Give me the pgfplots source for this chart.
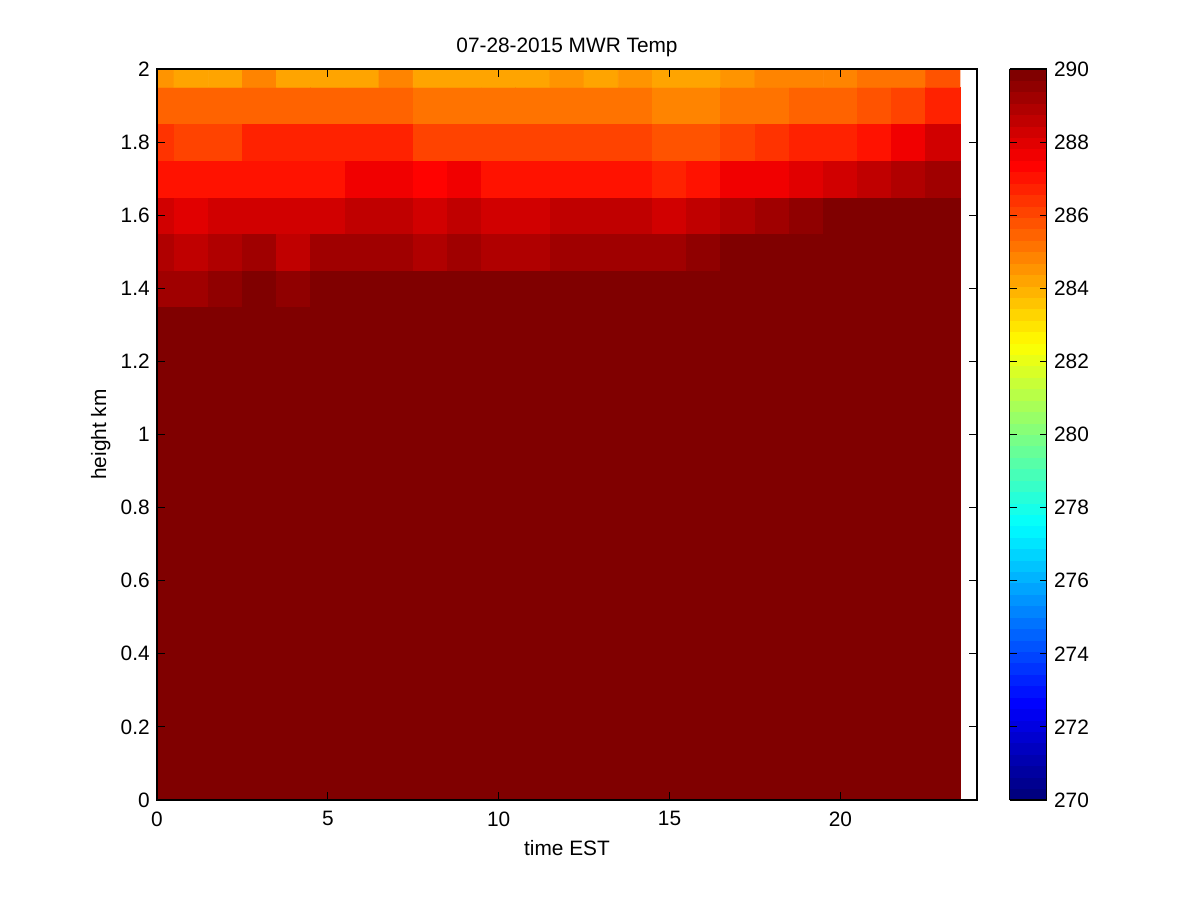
\documentclass[border=0pt]{standalone}
\usepackage{fontspec}
\setmainfont{Liberation Sans}
\usepackage{pgfplots}
\pgfplotsset{compat=1.18}
\usepackage{pgfplotstable}

\pgfplotsset{
  colormap={matjet}{rgb(0cm)=(0,0,0.5) rgb(1cm)=(0,0,1) rgb(3cm)=(0,1,1) rgb(5cm)=(1,1,0) rgb(7cm)=(1,0,0) rgb(8cm)=(0.5,0,0)},
  colormap={mjet64}{samples of colormap=(64 of matjet)},
}

% top levels: x (time EST), y (height km), c (temperature K)
\pgfplotstableread{
x y c
0 1.3 290
1 1.3 290
2 1.3 290
3 1.3 290
4 1.3 290
5 1.3 290
6 1.3 290
7 1.3 290
8 1.3 290
9 1.3 290
10 1.3 290
11 1.3 290
12 1.3 290
13 1.3 290
14 1.3 290
15 1.3 290
16 1.3 290
17 1.3 290
18 1.3 290
19 1.3 290
20 1.3 290
21 1.3 290
22 1.3 290
23 1.3 290
0 1.4 289.3
1 1.4 289.3
2 1.4 289.5
3 1.4 290
4 1.4 289.4
5 1.4 290
6 1.4 290
7 1.4 290
8 1.4 290
9 1.4 290
10 1.4 290
11 1.4 290
12 1.4 290
13 1.4 290
14 1.4 290
15 1.4 290
16 1.4 290
17 1.4 290
18 1.4 290
19 1.4 290
20 1.4 290
21 1.4 290
22 1.4 290
23 1.4 290
0 1.5 288.8
1 1.5 288.5
2 1.5 288.8
3 1.5 289.1
4 1.5 288.7
5 1.5 289.1
6 1.5 289.3
7 1.5 289.3
8 1.5 289.0
9 1.5 289.3
10 1.5 289.0
11 1.5 289.0
12 1.5 289.1
13 1.5 289.1
14 1.5 289.1
15 1.5 289.1
16 1.5 289.4
17 1.5 290
18 1.5 290
19 1.5 290
20 1.5 290
21 1.5 290
22 1.5 290
23 1.5 290
0 1.6 288.3
1 1.6 288.0
2 1.6 288.3
3 1.6 288.3
4 1.6 288.3
5 1.6 288.3
6 1.6 288.6
7 1.6 288.6
8 1.6 288.3
9 1.6 288.6
10 1.6 288.3
11 1.6 288.3
12 1.6 288.5
13 1.6 288.6
14 1.6 288.6
15 1.6 288.3
16 1.6 288.5
17 1.6 288.8
18 1.6 289.1
19 1.6 289.4
20 1.6 289.7
21 1.6 290
22 1.6 290
23 1.6 290
0 1.7 287.1
1 1.7 287.1
2 1.7 287.1
3 1.7 287.1
4 1.7 287.1
5 1.7 287.1
6 1.7 287.5
7 1.7 287.5
8 1.7 287.2
9 1.7 287.5
10 1.7 287.1
11 1.7 287.1
12 1.7 287.1
13 1.7 287.1
14 1.7 287.1
15 1.7 286.7
16 1.7 287.1
17 1.7 287.5
18 1.7 287.8
19 1.7 287.9
20 1.7 288.2
21 1.7 288.5
22 1.7 288.9
23 1.7 289.2
0 1.8 286.5
1 1.8 286.1
2 1.8 286.1
3 1.8 286.6
4 1.8 286.6
5 1.8 286.6
6 1.8 286.6
7 1.8 286.6
8 1.8 286.2
9 1.8 286.2
10 1.8 286.2
11 1.8 286.2
12 1.8 286.1
13 1.8 286.1
14 1.8 286.1
15 1.8 285.9
16 1.8 285.9
17 1.8 286.2
18 1.8 286.5
19 1.8 286.8
20 1.8 286.8
21 1.8 287.1
22 1.8 287.5
23 1.8 288.2
0 1.9 285.4
1 1.9 285.4
2 1.9 285.4
3 1.9 285.4
4 1.9 285.4
5 1.9 285.4
6 1.9 285.4
7 1.9 285.4
8 1.9 285.2
9 1.9 285.2
10 1.9 285.2
11 1.9 285.2
12 1.9 285.2
13 1.9 285.2
14 1.9 285.2
15 1.9 284.9
16 1.9 284.9
17 1.9 285.2
18 1.9 285.2
19 1.9 285.4
20 1.9 285.4
21 1.9 285.8
22 1.9 286.0
23 1.9 286.7
0 2.0 284.6
1 2.0 284.3
2 2.0 284.3
3 2.0 284.8
4 2.0 284.3
5 2.0 284.3
6 2.0 284.3
7 2.0 284.8
8 2.0 284.3
9 2.0 284.3
10 2.0 284.2
11 2.0 284.1
12 2.0 284.5
13 2.0 284.2
14 2.0 284.6
15 2.0 284.2
16 2.0 284.2
17 2.0 284.4
18 2.0 284.8
19 2.0 284.8
20 2.0 284.8
21 2.0 285.0
22 2.0 285.2
23 2.0 285.7
}\toprows

% lower levels (0 to 1.45 km, drawn beneath the upper rows): at or above 290 K
\pgfplotstableread{
x y c
5.5 0.3625 290
17.5 0.3625 290
5.5 1.0875 290
17.5 1.0875 290
}\lowblock

\begin{document}
\begin{tikzpicture}
\path (0,0) rectangle (576pt,432pt);
\begin{axis}[
  at={(75.36pt,48pt)}, anchor=south west,
  scale only axis, width=393.6pt, height=350.88pt,
  xmin=0, xmax=24, ymin=0, ymax=2,
  xtick={0,5,10,15,20},
  ytick={0,0.2,0.4,0.6,0.8,1,1.2,1.4,1.6,1.8,2},
  yticklabels={0,0.2,0.4,0.6,0.8,1,1.2,1.4,1.6,1.8,2},
  tick align=inside, xtick pos=both, ytick pos=both,
  major tick length=3.9pt,
  tick style={black, line width=0.5pt},
  axis line style={line width=0.5pt},
  /pgf/number format/assume math mode=true,
  ticklabel style={font=\fontsize{10}{12}\selectfont},
  xticklabel style={yshift=-2pt},
  label style={font=\fontsize{10}{12}\selectfont},
  ylabel style={yshift=-2pt},
  title style={font=\fontsize{10}{12}\selectfont, yshift=-3.7pt},
  title={07-28-2015 MWR Temp},
  xlabel={time EST},
  ylabel={height km},
  colormap name=mjet64,
  colormap access=piecewise constant,
  point meta min=270, point meta max=290,
  colorbar,
  colorbar style={
    at={(parent axis.north east)}, anchor=north west, xshift=7.2pt,
    width=17.76pt,
    ytick={270,272,274,276,278,280,282,284,286,288,290},
    tick align=inside, ytick pos=both, yticklabel pos=right,
    major tick length=3.4pt,
    tick style={black, line width=0.5pt},
    axis line style={line width=0.5pt},
    /pgf/number format/assume math mode=true,
    yticklabel style={font=\fontsize{10}{12}\selectfont},
  },
  axis on top,
]
\addplot[matrix plot*, mesh/cols=2, point meta=explicit] table[x=x, y=y, meta=c] {\lowblock};
\addplot[matrix plot*, mesh/cols=24, point meta=explicit] table[x=x, y=y, meta=c] {\toprows};
\end{axis}
\end{tikzpicture}
\end{document}
